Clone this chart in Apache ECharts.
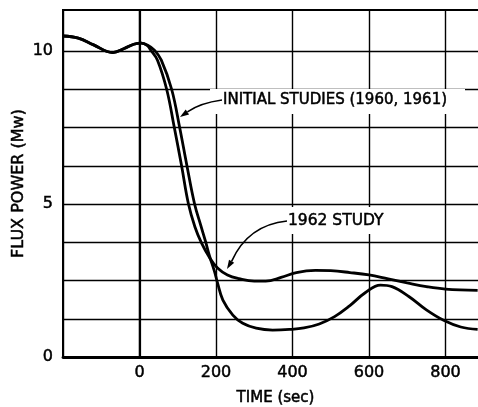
<!DOCTYPE html>
<html><head><meta charset="utf-8">
<script src="https://cdn.jsdelivr.net/npm/echarts@6/dist/echarts.min.js"></script>
<style>html,body{margin:0;padding:0;background:#fff}#c{width:478px;height:407px}</style>
</head><body><div id="c"></div>
<script>
// ---- data ----
const initialTime = [-200,-160,-120,-70,-40,-15,5,20,39,57,84,105,124,144,160,173,183,196,204,218,244,270,305,348,392,430,470,510,550,590,630,660,705,750,795,840,884];
const initialFlux = [10.49,10.42,10.2,9.95,10.08,10.22,10.26,10.2,10.03,9.7,8.75,7.5,6.25,5.0,4.31,3.76,3.3,2.8,2.42,1.86,1.37,1.1,0.94,0.88,0.9,0.95,1.08,1.32,1.68,2.1,2.35,2.3,1.97,1.54,1.2,0.98,0.9];
const study1962Time = [-200,-160,-120,-70,-40,-15,5,20,31,47,71,91,110,128,145,162,183,204,230,260,300,330,370,410,460,500,550,600,650,700,750,800,884];
const study1962Flux = [10.49,10.42,10.2,9.95,10.08,10.22,10.26,10.18,10.0,9.7,8.75,7.5,6.25,5.0,4.25,3.73,3.25,2.91,2.68,2.56,2.48,2.48,2.6,2.76,2.83,2.82,2.76,2.68,2.55,2.42,2.3,2.22,2.18];
const xTickLabels = [0,200,400,600,800];
const yTickLabels = [0,5,10];
const yGridValues = [1.25,2.5,3.75,5,6.25,7.5,8.75,10];
const labelInitial = 'INITIAL STUDIES (1960, 1961)';
const label1962 = '1962 STUDY';
const xTitle = 'TIME (sec)';
const yTitle = 'FLUX POWER (Mw)';

const FONT = '"DejaVu Sans", sans-serif';
const chart = echarts.init(document.getElementById('c'), null, {renderer:'canvas'});
const pair = (xs, ys) => xs.map((t,i)=>[t, ys[i]]);
const txt = {fontFamily:FONT, color:'#000', textBorderColor:'#000', textBorderWidth:0.5};

chart.setOption({
  animation:false,
  backgroundColor:'#fff',
  grid:{left:63, top:10, right:-10, bottom:50, outerBoundsMode:'none', containLabel:false,
    show:true, borderColor:'#000', borderWidth:2, backgroundColor:'transparent'},
  xAxis:{
    type:'value', min:-200, max:911.1, interval:200,
    name:xTitle, nameLocation:'middle', nameGap:34, nameMoveOverlap:false,
    nameTextStyle:Object.assign({fontSize:15}, txt),
    axisLine:{show:true, lineStyle:{color:'#000', width:2.8}},
    axisTick:{show:false},
    axisLabel:Object.assign({margin:8, fontSize:16,
      formatter:v=> xTickLabels.includes(v) ? String(v) : ''}, txt),
    splitLine:{show:true, lineStyle:{color:'#000', width:1.4, type:'solid'}}
  },
  yAxis:{
    type:'value', min:0, max:11.34, interval:1.25,
    name:yTitle, nameLocation:'middle', nameGap:36, nameRotate:90, nameMoveOverlap:false,
    nameTextStyle:Object.assign({fontSize:16}, txt),
    axisLine:{show:true, lineStyle:{color:'#000', width:2.2}},
    axisTick:{show:false},
    axisLabel:Object.assign({margin:10, fontSize:16,
      formatter:v=> yTickLabels.includes(v) ? String(v) : ''}, txt),
    splitLine:{show:false}
  },
  series:[
    {type:'line', name:'grid', data:[], z:1, silent:true,
      markLine:{silent:true, z:1, symbol:['none','none'], label:{show:false},
        lineStyle:{color:'#000', width:1.4, type:'solid'},
        data: yGridValues.map(v=>({yAxis:v}))}},
    {type:'line', name:labelInitial, data:pair(initialTime, initialFlux), smooth:0.4,
      showSymbol:false, lineStyle:{color:'#000', width:2.8}, z:3},
    {type:'line', name:label1962, data:pair(study1962Time, study1962Flux), smooth:0.4,
      showSymbol:false, lineStyle:{color:'#000', width:2.8}, z:3}
  ],
  graphic:[
    {type:'rect', z:50, silent:true, shape:{x:210, y:89, width:255, height:25}, style:{fill:'#fff'}},
    {type:'rect', z:50, silent:true, shape:{x:283, y:207, width:110, height:27}, style:{fill:'#fff'}},
    {type:'text', z:60, x:223, y:100, style:{text:labelInitial, font:'15px '+FONT, fill:'#000', stroke:'#000', lineWidth:0.5, align:'left', verticalAlign:'middle'}},
    {type:'text', z:60, x:288, y:221, style:{text:label1962, font:'15.5px '+FONT, fill:'#000', stroke:'#000', lineWidth:0.5, align:'left', verticalAlign:'middle'}},
    {type:'bezierCurve', z:60, shape:{x1:222, y1:100, cpx1:200, cpy1:103, x2:187.4, y2:111.9}, style:{stroke:'#000', lineWidth:1.6, fill:null}},
    {type:'polygon', z:60, shape:{points:[[180,117],[189.1,114.4],[185.7,109.4]]}, style:{fill:'#000'}},
    {type:'bezierCurve', z:60, shape:{x1:287, y1:221, cpx1:248, cpy1:225, x2:231.6, y2:261.3}, style:{stroke:'#000', lineWidth:1.6, fill:null}},
    {type:'polygon', z:60, shape:{points:[[227,269],[234.2,262.8],[229,259.8]]}, style:{fill:'#000'}}
  ]
});
</script></body></html>
